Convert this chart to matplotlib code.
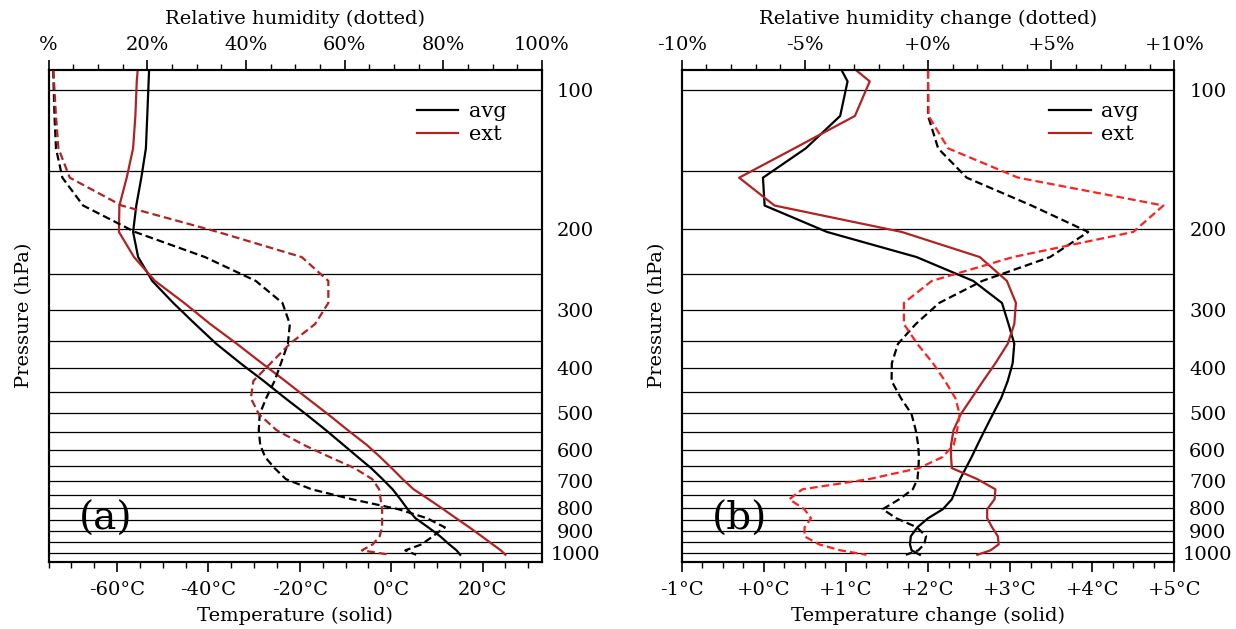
import matplotlib
matplotlib.use('Agg')
import matplotlib.pyplot as plt
from matplotlib.ticker import MultipleLocator, FixedLocator, NullLocator
from matplotlib.lines import Line2D

plt.rcParams['font.family'] = 'DejaVu Serif'
plt.rcParams['font.size'] = 14

# pressure levels (hPa) of the profiles
plev = [91, 96, 114, 134, 155, 178, 203, 230, 259, 289, 321, 354, 390, 426, 464,
        502, 544, 586, 622, 657, 694, 730, 767, 806, 843, 882, 922, 960, 989, 1011]

# (a) temperature (degC) and relative humidity (%)
t_avg = [-53.0, -53.1, -53.4, -53.7, -54.7, -55.8, -56.5, -55.4, -52.3, -47.7,
         -42.9, -38.3, -33.0, -27.9, -23.2, -18.7, -14.3, -10.4, -7.3, -4.4,
         -1.9, 0.3, 2.0, 3.6, 5.3, 8.1, 10.7, 12.7, 14.3, 15.1]
t_ext = [-55.5, -55.7, -56.0, -56.5, -57.9, -59.5, -59.6, -56.3, -51.7, -45.3,
         -39.6, -33.8, -28.3, -23.2, -18.4, -13.9, -9.5, -5.3, -2.4, 0.1,
         2.5, 4.9, 8.2, 11.4, 14.2, 17.1, 19.8, 22.2, 24.0, 25.0]
rh_avg = [0.95, 1.0, 1.2, 1.5, 2.8, 7.0, 17.5, 31.7, 42.0, 47.4,
          48.9, 48.5, 47.1, 45.8, 44.1, 42.8, 42.6, 42.9, 43.9, 45.8,
          48.1, 53.3, 61.5, 70.9, 76.7, 80.3, 77.9, 75.6, 72.3, 74.5]
rh_ext = [0.95, 1.1, 1.5, 2.0, 4.3, 14.8, 34.3, 51.3, 56.7, 56.7,
          54.0, 48.9, 45.0, 41.5, 41.0, 42.6, 46.2, 51.8, 57.0, 62.0,
          65.6, 67.0, 67.3, 67.6, 67.6, 67.6, 67.1, 65.7, 63.5, 69.2]

# (b) temperature change (degC) and relative humidity change (%)
dt_avg = [0.95, 1.02, 0.93, 0.51, -0.01, 0.01, 0.77, 1.86, 2.55, 2.90,
          2.98, 3.05, 3.03, 2.97, 2.89, 2.79, 2.69, 2.60, 2.53, 2.46,
          2.39, 2.34, 2.29, 2.18, 2.00, 1.87, 1.79, 1.78, 1.80, 1.90]
dt_ext = [1.13, 1.29, 1.11, 0.37, -0.30, 0.13, 1.68, 2.63, 2.96, 3.07,
          3.05, 2.97, 2.82, 2.67, 2.53, 2.40, 2.31, 2.28, 2.28, 2.29,
          2.60, 2.82, 2.81, 2.72, 2.72, 2.78, 2.85, 2.86, 2.76, 2.60]
drh_avg = [0.0, 0.0, 0.0, 0.41, 1.57, 4.2, 6.5, 4.95, 2.2, 0.45,
           -0.5, -1.22, -1.47, -1.48, -1.1, -0.67, -0.5, -0.40, -0.37, -0.39,
           -0.43, -0.62, -1.17, -1.84, -1.29, -0.45, -0.08, -0.16, -0.40, -0.9]
drh_ext = [0.0, 0.0, 0.02, 0.82, 3.66, 9.55, 8.33, 3.45, 0.15, -0.98,
           -0.98, -0.44, 0.2, 0.69, 1.11, 1.28, 1.18, 1.04, 0.58, -0.37,
           -2.40, -5.10, -5.63, -5.02, -4.75, -5.01, -5.02, -4.42, -3.55, -2.5]

grid_p = list(range(100, 1001, 50))
ylabels = [100, 200, 300, 400, 500, 600, 700, 800, 900, 1000]

BLACK = 'black'
DARKRED = '#b22222'
DASH = (0, (3.5, 1.8))


def draw_panel(ax, t1, t2, r1, r2, red_dash, tlim, rlim,
               tmaj, tmin, rmaj, rmin, tfmt, rfmt, tlabel, rlabel, tag):
    ax.set_yscale('log')
    for p in grid_p:
        ax.axhline(p, color='black', lw=0.9, zorder=1)
    ax.plot(t1, plev, color=BLACK, lw=1.6, zorder=3)
    ax.plot(t2, plev, color=DARKRED, lw=1.6, zorder=3)
    ax.set_xlim(*tlim)
    ax.set_ylim(1048, 90.5)

    ax2 = ax.twiny()
    ax2.plot(r1, plev, color=BLACK, lw=1.6, ls=DASH, zorder=3)
    ax2.plot(r2, plev, color=red_dash, lw=1.6, ls=DASH, zorder=3)
    ax2.set_xlim(*rlim)
    ax.set_ylim(1048, 90.5)

    # bottom axis
    ax.xaxis.set_major_locator(FixedLocator(tmaj))
    ax.xaxis.set_minor_locator(MultipleLocator(tmin))
    ax.set_xticklabels([tfmt(v) for v in tmaj])
    ax.tick_params(axis='x', which='major', length=7.5, width=1.2, pad=6)
    ax.tick_params(axis='x', which='minor', length=4, width=1.0)
    ax.set_xlabel(tlabel, labelpad=6)

    # top axis
    ax2.xaxis.set_major_locator(FixedLocator(rmaj))
    ax2.xaxis.set_minor_locator(MultipleLocator(rmin))
    ax2.set_xticklabels([rfmt(v) for v in rmaj])
    ax2.tick_params(axis='x', which='major', length=7.5, width=1.2, pad=4)
    ax2.tick_params(axis='x', which='minor', length=4, width=1.0)
    ax2.set_xlabel(rlabel, labelpad=8)

    # pressure axis on the right
    ax.yaxis.set_major_locator(FixedLocator(ylabels))
    ax.yaxis.set_minor_locator(NullLocator())
    ax.set_yticklabels([str(v) for v in ylabels])
    ax.yaxis.tick_right()
    ax.tick_params(axis='y', length=0, pad=24)
    for lbl in ax.get_yticklabels():
        lbl.set_horizontalalignment('center')
    ax.set_ylabel('Pressure (hPa)', labelpad=11)

    for a in (ax, ax2):
        for s in a.spines.values():
            s.set_linewidth(1.5)

    handles = [Line2D([], [], color=BLACK, lw=1.6),
               Line2D([], [], color=DARKRED, lw=1.6)]
    ax.legend(handles, ['avg', 'ext'], loc='upper right', frameon=False,
              bbox_to_anchor=(0.966, 0.972), handlelength=2.0,
              handletextpad=0.5, labelspacing=0.2, fontsize=15)
    ax.text(0.062, 0.05, tag, transform=ax.transAxes, fontsize=28,
            ha='left', va='bottom')


fig = plt.figure(figsize=(12.36, 6.29), dpi=100)
ax_a = fig.add_axes([0.0393, 0.1065, 0.3992, 0.783])
ax_b = fig.add_axes([0.5515, 0.1065, 0.3987, 0.783])

draw_panel(ax_a, t_avg, t_ext, rh_avg, rh_ext, DARKRED,
           (-75, 33), (0, 100),
           [-60, -40, -20, 0, 20], 5, [0, 20, 40, 60, 80, 100], 5,
           lambda v: '%d°C' % v,
           lambda v: '%' if v == 0 else '%d%%' % v,
           'Temperature (solid)', 'Relative humidity (dotted)', '(a)')

draw_panel(ax_b, dt_avg, dt_ext, drh_avg, drh_ext, '#ff2020',
           (-1, 5), (-10, 10),
           [-1, 0, 1, 2, 3, 4, 5], 0.25, [-10, -5, 0, 5, 10], 1,
           lambda v: '%+d°C' % v,
           lambda v: '%+d%%' % v,
           'Temperature change (solid)', 'Relative humidity change (dotted)', '(b)')

fig.savefig('out.png', dpi=100)
